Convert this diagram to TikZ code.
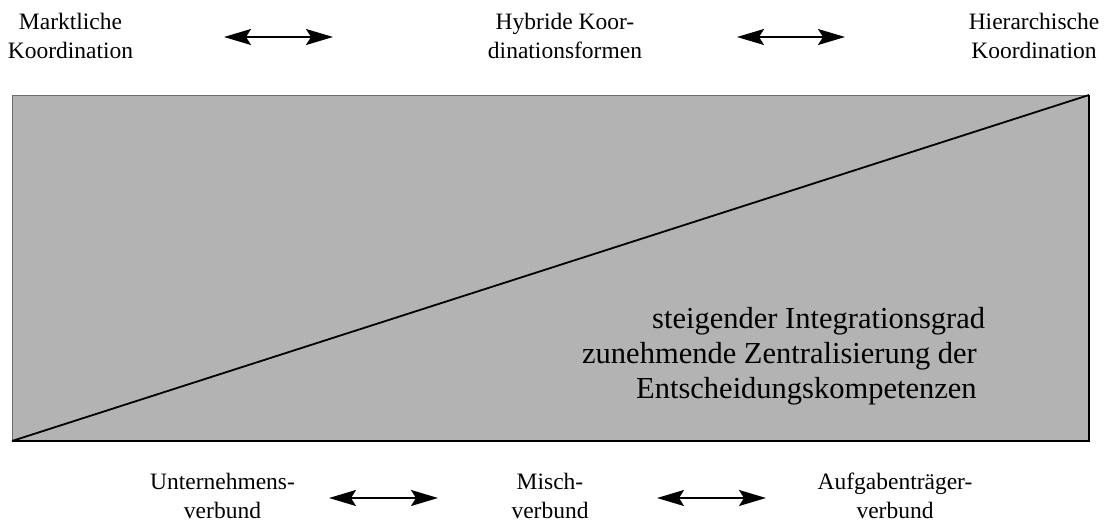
\documentclass[tikz,border=0pt]{standalone}
\usepackage{fontspec}
\setmainfont{Liberation Serif}
\usetikzlibrary{arrows.meta}
\definecolor{boxgray}{RGB}{179,179,179}
\definecolor{edgegray}{RGB}{110,110,110}
\tikzset{
  lbl/.style={align=center, inner sep=0pt, anchor=north, font=\fontsize{23.5pt}{29pt}\selectfont},
  big/.style={inner sep=0pt, anchor=base west, font=\fontsize{30.5pt}{35pt}\selectfont},
  dbl/.style={{Stealth[length=27pt,width=16pt,inset=5pt]}-{Stealth[length=27pt,width=16pt,inset=5pt]}, line width=1.6pt}
}
\begin{document}
\begin{tikzpicture}[x=1pt,y=-1pt]
\useasboundingbox (0,0) rectangle (1106,522);
% box
\coordinate (bl) at (12,441);
\coordinate (tr) at (1089,95);
\coordinate (tl) at (12,95);
\coordinate (br) at (1089,441);
\fill[boxgray] (bl) rectangle (tr);
\draw[edgegray, line width=1pt] (bl) -- (tl) -- (tr);
\draw[black, line width=1.6pt] (bl) -- (br) -- (tr);
\draw[black, line width=1.8pt] (bl) -- (tr);
% top labels
\node[lbl] (markt) at (70.5,13) {Marktliche\\Koordination};
\node[lbl] (hybr) at (565,13) {Hybride Koor-\\dinationsformen};
\node[lbl] (hier) at (1034,13) {Hierarchische\\Koordination};
% bottom labels
\node[lbl] (unter) at (222.5,473) {Unternehmens-\\verbund};
\node[lbl] (misch) at (550,473) {Misch-\\verbund};
\node[lbl] (aufg) at (895,473) {Aufgabenträger-\\verbund};
% big text
\node[big] (t1) at (652,328) {steigender Integrationsgrad};
\node[big] (t2) at (582,363) {zunehmende Zentralisierung der};
\node[big] (t3) at (636,398) {Entscheidungskompetenzen};
% arrows
\coordinate (a1l) at (224,37); \coordinate (a1r) at (333,37);
\coordinate (a2l) at (737,37); \coordinate (a2r) at (845,37);
\coordinate (b1l) at (329,498); \coordinate (b1r) at (438,498);
\coordinate (b2l) at (657,498); \coordinate (b2r) at (766,498);
\draw[dbl] (a1l) -- (a1r);
\draw[dbl] (a2l) -- (a2r);
\draw[dbl] (b1l) -- (b1r);
\draw[dbl] (b2l) -- (b2r);
\end{tikzpicture}
\end{document}
